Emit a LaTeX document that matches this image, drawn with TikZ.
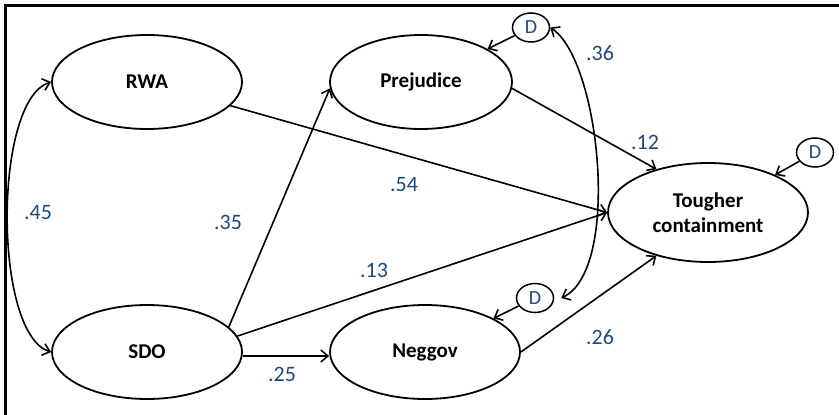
\documentclass[tikz,border=0pt]{standalone}
\usepackage{fontspec}
\setmainfont{Carlito}
\usetikzlibrary{shapes.geometric,arrows.meta}
\definecolor{lbl}{HTML}{1F497D}
\begin{document}
\begin{tikzpicture}[x=1pt,y=-1pt,
  var/.style={ellipse,draw,line width=1.8pt,inner sep=0pt,font=\fontsize{21}{25}\selectfont\bfseries,align=center},
  dist/.style={ellipse,draw,line width=1.5pt,inner sep=0pt,minimum width=37pt,minimum height=29pt,font=\fontsize{20}{24}\selectfont,text=lbl},
  arr/.style={line width=1.6pt,-{Straight Barb[length=7pt,width=12pt]}},
  darr/.style={line width=1.6pt,{Straight Barb[length=7pt,width=12pt]}-{Straight Barb[length=7pt,width=12pt]}},
  coef/.style={font=\fontsize{22}{26}\selectfont,text=lbl,inner sep=0pt}]
\useasboundingbox (0,0) rectangle (839,415);
\draw[line width=2.3pt] (5.5,415) -- (5.5,5.5) -- (839,5.5);

\node[var,minimum width=190pt,minimum height=94pt] (RWA) at (147,82) {RWA};
\node[var,minimum width=182pt,minimum height=94pt] (Prej) at (421,82) {Prejudice};
\node[var,minimum width=190pt,minimum height=94pt] (SDO) at (147,352) {SDO};
\node[var,minimum width=190pt,minimum height=94pt] (Neg) at (425,352) {Neggov};
\node[var,minimum width=200pt,minimum height=99pt] (Tough) at (708,212.5) {Tougher\\containment};

\node[dist] (D1) at (531,27.5) {D};
\node[dist] (D2) at (815,152.5) {D};
\node[dist] (D3) at (535,298) {D};

\draw[arr] (D1) -- (Prej);
\draw[arr] (D2) -- (Tough);
\draw[arr] (D3) -- (Neg);
\draw[darr] (D1.east) .. controls +(50,32.5) and +(60,-28) .. ([xshift=7pt]D3.east);

\draw[arr] (RWA) -- (Tough.west);
\draw[arr] (Prej.-4) -- (Tough.140);
\draw[arr] (SDO.17) -- (Prej.184);
\draw[arr] (SDO.10) -- (Tough.west);
\draw[arr] ([yshift=-4pt]SDO.east) -- ([yshift=-4pt]Neg.west);
\draw[arr] (Neg.east) -- (Tough.220);
\draw[darr] (RWA.west) .. controls +(-58,18) and +(-58,-18) .. (SDO.west);

\node[coef] (c45) at (38,213) {.45};
\node[coef] (c54) at (404,185) {.54};
\node[coef] (c35) at (228,222) {.35};
\node[coef] (c13) at (374,270) {.13};
\node[coef] (c25) at (282,374) {.25};
\node[coef] (c26) at (600,337) {.26};
\node[coef] (c12) at (645,142) {.12};
\node[coef] (c36) at (600,53) {.36};
\end{tikzpicture}
\end{document}
